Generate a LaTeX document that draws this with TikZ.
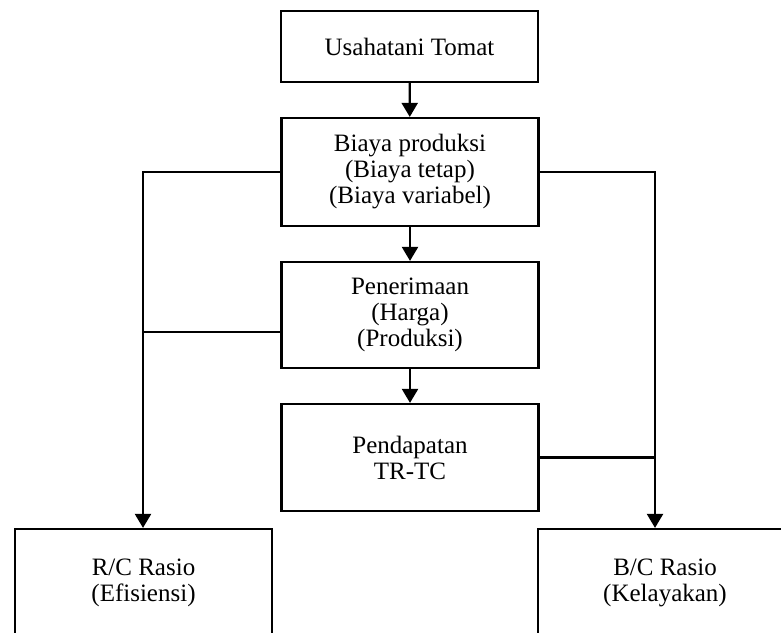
\documentclass[tikz,border=0pt]{standalone}
\usepackage{fontspec}
\setmainfont{Liberation Serif}
\usetikzlibrary{arrows.meta,positioning}

\begin{document}
\begin{tikzpicture}[x=0.5pt, y=-0.5pt, line width=1.1pt, >={Triangle[width=8pt,length=7pt]}]
   \clip (0,0) rectangle (781,632);
   \begin{scope}[every node/.style={draw,rectangle,align=center,inner sep=0pt,minimum width=128.5pt,font=\fontsize{12.5}{13}\selectfont}]
    \node (v1) [minimum height=35.5pt] at (409.5,46.5) {Usahatani Tomat};
    \node (v2) [minimum height=54pt] at (410,172) {Biaya produksi\\(Biaya tetap)\\(Biaya variabel)};
    \node (v3) [minimum height=53pt] at (410,315) {Penerimaan\\(Harga)\\(Produksi)};
    \node (v4) [minimum height=53.5pt] at (410,457.5) {Pendapatan\\TR-TC};
    \node (v5) [minimum height=54pt] at (143.5,583) {R/C Rasio\\(Efisiensi)};
    \node (v6) [minimum height=54pt, minimum width=127pt] at (665,583) {B/C Rasio\\(Kelayakan)};
   \end{scope}
   \coordinate (kiri) at (143,172);
   \coordinate (kanan) at (655,172);
   \begin{scope}[->]
    \draw (v1) -- (v2);
    \draw (v2) -- (v3);
    \draw (v3) -- (v4);
    \draw (v2.west) -- (kiri) -- (kiri |- v5.north);
    \draw (v2.east) -- (kanan) -- (kanan |- v6.north);
   \end{scope}
   % cabang ke jalur samping
   \draw (kiri |- 0,332) -- (v3.west |- 0,332);
   \draw (v4.east) -- (v4.east -| kanan);
\end{tikzpicture}
\end{document}
